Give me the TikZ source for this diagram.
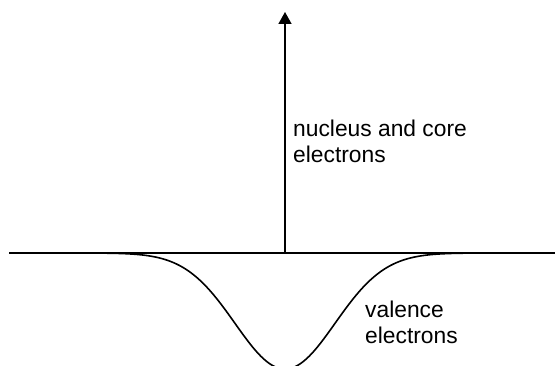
\documentclass[tikz,border=0pt]{standalone}
\usepackage{fontspec}
\setmainfont{Liberation Sans}
\usetikzlibrary{arrows.meta}
\begin{document}
\begin{tikzpicture}[x=1pt,y=1pt,
  axisline/.style={line width=1.6pt, black},
  label/.style={inner sep=0pt, align=left, font=\fontsize{22.8}{26.5}\selectfont}]
\useasboundingbox (0,0) rectangle (555,366);
\clip (0,0) rectangle (555,366);
\coordinate (L) at (9,113);
\coordinate (R) at (555,113);
\coordinate (O) at (285,113);
\coordinate (T) at (285,354);
\draw[axisline] (L) -- (R);
\draw[axisline, -{Triangle[width=13pt,length=12pt]}] (O) -- (T);
\draw[axisline, line join=round] plot[domain=-3.7:3.7, samples=160] ({285+50*\x}, {113-116*exp(-(\x*\x)/2)});
\node[label, anchor=base west] (core) at (293,203) {nucleus and core\\electrons};
\node[label, anchor=base west] (val) at (365,22) {valence\\electrons};
\end{tikzpicture}
\end{document}
